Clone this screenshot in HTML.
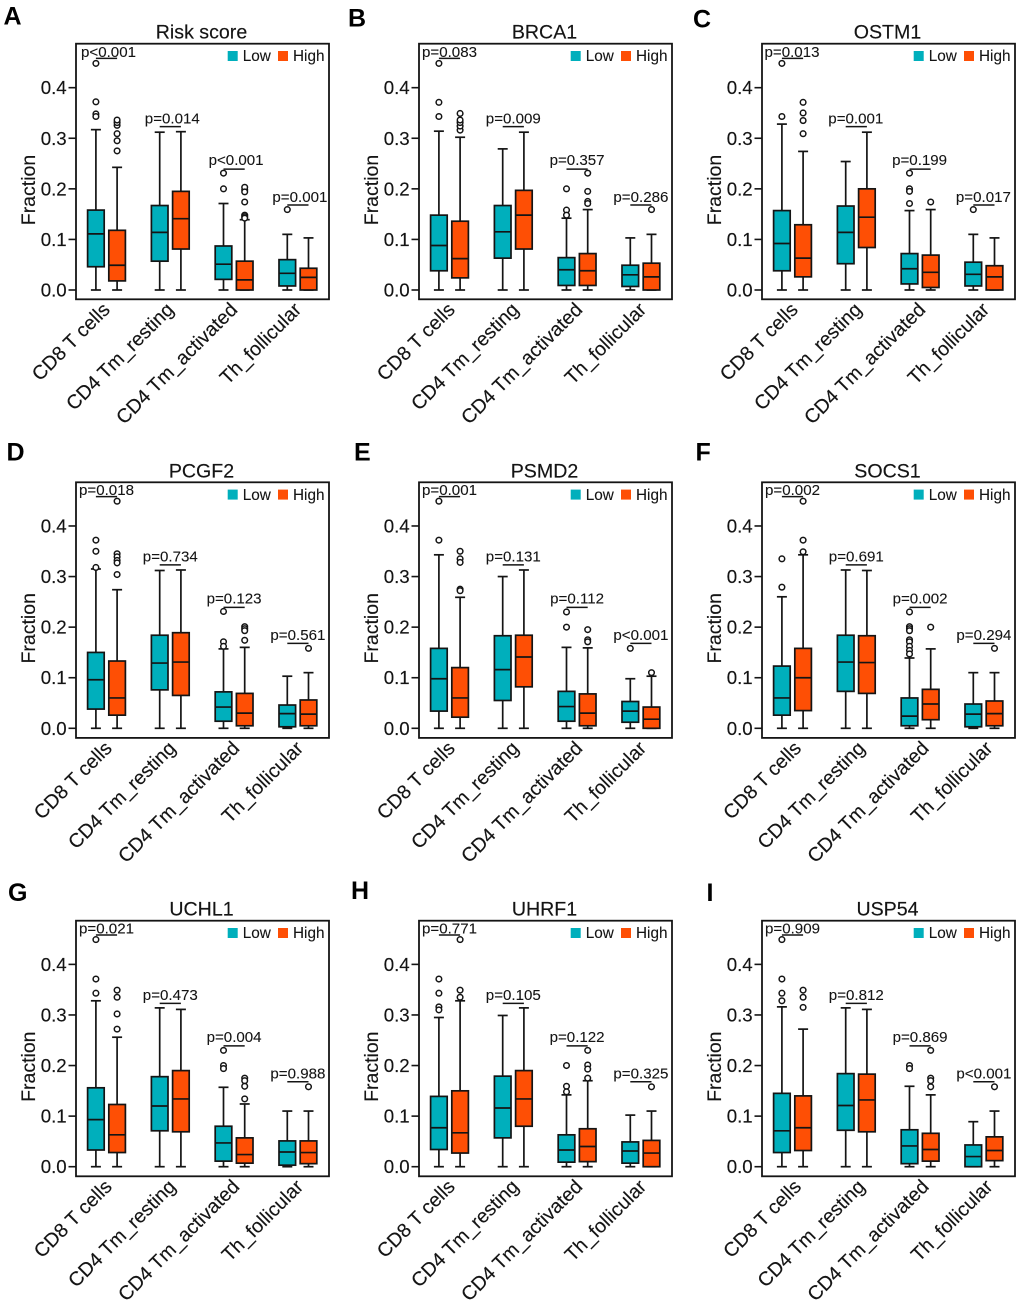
<!DOCTYPE html>
<html lang="en">
<head>
<meta charset="utf-8">
<title>Immune cell fractions by gene expression</title>
<style>
html,body{margin:0;padding:0;background:#fff;}
svg{display:block;font-family:"Liberation Sans",Arial,sans-serif;}
</style>
</head>
<body>
<svg id="figure" width="1020" height="1307" viewBox="0 0 1020 1307" xmlns="http://www.w3.org/2000/svg"></svg>
<script>
// ---- shared labels ----
const categories = ["CD8 T cells", "CD4 Tm_resting", "CD4 Tm_activated", "Th_follicular"];
const yTicks = [0, 0.1, 0.2, 0.3, 0.4];
const seriesNames = ["Low", "High"];
const bracketHeights = [0.458, 0.323, 0.239, 0.168];

// ---- panel titles ----
const panelLetters = ["A", "B", "C", "D", "E", "F", "G", "H", "I"];
const panelTitles = ["Risk score", "BRCA1", "OSTM1", "PCGF2", "PSMD2", "SOCS1", "UCHL1", "UHRF1", "USP54"];

// ---- box stats: one row per category, [whisker low, q1, median, q3, whisker high] ----
const riskLow = [[0,.046,.111,.158,.317],[0,.057,.114,.167,.312],[0,.021,.051,.087,.171],[0,.008,.033,.060,.110]];
const riskHigh = [[0,.018,.049,.118,.2425],[0,.081,.141,.195,.313],[0,0,.020,.057,.139],[0,0,.025,.043,.103]];
const riskLowOut = [[.448,.372,.348,.343],[],[.231,.200],[.159]];
const riskHighOut = [[.275,.295,.309,.3255,.331,.336],[],[.198,.203,.194,.174,.148,.145,.142],[]];
const riskP = ["p<0.001", "p=0.014", "p<0.001", "p=0.001"];

const brca1Low = [[0,.038,.088,.148,.314],[0,.063,.115,.167,.279],[0,.009,.040,.064,.142],[0,.007,.030,.049,.103]];
const brca1High = [[0,.024,.062,.136,.302],[0,.081,.148,.197,.312],[0,.009,.038,.072,.159],[0,0,.026,.053,.110]];
const brca1LowOut = [[.448,.371,.343],[],[.200,.158,.148],[]];
const brca1HighOut = [[.316,.324,.331,.336,.349],[],[.231,.195,.175,.171],[.159]];
const brca1P = ["p=0.083", "p=0.009", "p=0.357", "p=0.286"];

const ostm1Low = [[0,.038,.092,.157,.328],[0,.052,.114,.166,.254],[0,.012,.042,.072,.157],[0,.008,.031,.055,.110]];
const ostm1High = [[0,.026,.063,.129,.274],[0,.084,.144,.200,.312],[0,.005,.035,.069,.159],[0,0,.026,.048,.103]];
const ostm1LowOut = [[.448,.343],[],[.231,.200,.195,.171],[.159]];
const ostm1HighOut = [[.371,.350,.335,.309],[],[.174],[]];
const ostm1P = ["p=0.013", "p=0.001", "p=0.199", "p=0.017"];

const pcgf2Low = [[0,.038,.096,.150,.315],[0,.076,.129,.184,.312],[0,.014,.042,.072,.157],[0,.003,.029,.046,.103]];
const pcgf2High = [[0,.026,.060,.133,.274],[0,.065,.131,.189,.313],[0,.005,.030,.069,.160],[0,.005,.028,.056,.110]];
const pcgf2LowOut = [[.372,.350,.318],[],[.231,.171,.162],[]];
const pcgf2HighOut = [[.449,.345,.339,.332,.327,.304],[],[.201,.197,.193,.174],[.158]];
const pcgf2P = ["p=0.018", "p=0.734", "p=0.123", "p=0.561"];

const psmd2Low = [[0,.034,.098,.158,.343],[0,.055,.116,.183,.300],[0,.014,.043,.073,.160],[0,.012,.034,.053,.098]];
const psmd2High = [[0,.022,.060,.120,.259],[0,.082,.141,.184,.313],[0,.005,.030,.068,.159],[0,0,.018,.042,.103]];
const psmd2LowOut = [[.449,.372],[],[.230,.200],[.158]];
const psmd2HighOut = [[.350,.335,.328,.275,.272],[],[.195,.175,.171],[.110]];
const psmd2P = ["p=0.001", "p=0.131", "p=0.112", "p<0.001"];

const socs1Low = [[0,.026,.060,.123,.260],[0,.073,.131,.184,.313],[0,.005,.024,.060,.139],[0,.003,.028,.048,.110]];
const socs1High = [[0,.035,.100,.158,.343],[0,.069,.130,.183,.312],[0,.017,.048,.077,.157],[0,.005,.029,.054,.110]];
const socs1LowOut = [[.335,.279],[],[.230,.201,.197,.193,.175,.171,.162,.154,.147],[]];
const socs1HighOut = [[.449,.372,.349],[],[.200],[.158]];
const socs1P = ["p=0.002", "p=0.691", "p=0.002", "p=0.294"];

const uchl1Low = [[0,.033,.093,.156,.328],[0,.071,.120,.178,.314],[0,.011,.047,.080,.157],[0,.003,.029,.051,.110]];
const uchl1High = [[0,.028,.063,.123,.256],[0,.069,.134,.190,.311],[0,.007,.024,.057,.124],[0,.006,.028,.051,.110]];
const uchl1LowOut = [[.449,.371,.343],[],[.230,.200,.194],[]];
const uchl1HighOut = [[.349,.335,.302,.272],[],[.175,.170,.159,.134],[.158]];
const uchl1P = ["p=0.021", "p=0.473", "p=0.004", "p=0.988"];

const uhrf1Low = [[0,.034,.077,.139,.295],[0,.057,.116,.179,.299],[0,.009,.033,.063,.142],[0,.007,.031,.049,.102]];
const uhrf1High = [[0,.027,.067,.150,.328],[0,.080,.134,.190,.314],[0,.010,.040,.075,.170],[0,0,.027,.052,.110]];
const uhrf1LowOut = [[.371,.343,.316,.310],[],[.200,.159,.148],[]];
const uhrf1HighOut = [[.449,.349,.335],[],[.230,.201,.193,.175],[.158]];
const uhrf1P = ["p=0.771", "p=0.105", "p=0.122", "p=0.325"];

const usp54Low = [[0,.028,.071,.145,.316],[0,.072,.121,.184,.314],[0,.006,.041,.073,.159],[0,0,.020,.043,.089]];
const usp54High = [[0,.032,.077,.140,.272],[0,.069,.132,.183,.311],[0,.011,.034,.066,.142],[0,.012,.032,.059,.110]];
const usp54LowOut = [[.449,.371,.343,.328],[],[.200,.194],[]];
const usp54HighOut = [[.349,.335,.315],[],[.230,.175,.170,.158],[.158]];
const usp54P = ["p=0.909", "p=0.812", "p=0.869", "p<0.001"];

const lowStats = [riskLow, brca1Low, ostm1Low, pcgf2Low, psmd2Low, socs1Low, uchl1Low, uhrf1Low, usp54Low];
const highStats = [riskHigh, brca1High, ostm1High, pcgf2High, psmd2High, socs1High, uchl1High, uhrf1High, usp54High];
const lowOutliers = [riskLowOut, brca1LowOut, ostm1LowOut, pcgf2LowOut, psmd2LowOut, socs1LowOut, uchl1LowOut, uhrf1LowOut, usp54LowOut];
const highOutliers = [riskHighOut, brca1HighOut, ostm1HighOut, pcgf2HighOut, psmd2HighOut, socs1HighOut, uchl1HighOut, uhrf1HighOut, usp54HighOut];
const pLabels = [riskP, brca1P, ostm1P, pcgf2P, psmd2P, socs1P, uchl1P, uhrf1P, usp54P];

// ---- layout ----
const INK = "#141414", TEAL = "#00afbc", ORANGE = "#fe4f05";
const columnLefts = [76, 419, 762];
const rowTops = [43.7, 482.3, 920.7];
const rowZeros = [290, 728.3, 1166.7];
const FRAME_W = 253, FRAME_H = 255.6, PX_PER_UNIT = 505.8;
const BOX_W = 16.6, CAP_W = 10, LINE_W = 1.7;
const letterAnchors = {A:[3.5,24.7],B:[348,26.7],C:[693,27.3],D:[6.5,460.7],E:[354,460.7],F:[695.5,460.7],G:[8,901],H:[351,899],I:[706.5,901]};
const labelShift = [-2,0,0,0,0,3.3,0,0,3.3];
const pShift = [2,0,-0.5,0,0,0,0,0,0];

const svg = document.getElementById("figure");
const NS = "http://www.w3.org/2000/svg";
function make(tag, attrs, parent) {
  const n = document.createElementNS(NS, tag);
  for (const k in attrs) n.setAttribute(k, attrs[k]);
  parent.appendChild(n);
  return n;
}
function slug(s) { return s.toLowerCase().replace(/[^a-z0-9]+/g, "-").replace(/^-|-$/g, ""); }

function drawBox(g, cx, yOf, stats, outliers, fill, name) {
  const lo = stats[0], q1 = stats[1], med = stats[2], q3 = stats[3], hi = stats[4];
  const box = make("g", {}, g);
  
  
  const stem = make("line", {x1:cx, x2:cx, y1:yOf(lo), y2:yOf(hi), stroke:INK, "stroke-width":LINE_W}, box);
  
  
  [lo, hi].forEach(function (v) {
    const cap = make("line", {x1:cx-CAP_W/2, x2:cx+CAP_W/2, y1:yOf(v), y2:yOf(v), stroke:INK, "stroke-width":LINE_W}, box);
    
    
  });
  const rect = make("rect", {x:cx-BOX_W/2, y:yOf(q3), width:BOX_W, height:yOf(q1)-yOf(q3), fill:fill, stroke:INK, "stroke-width":LINE_W}, box);
  
  
  const mid = make("line", {x1:cx-BOX_W/2, x2:cx+BOX_W/2, y1:yOf(med), y2:yOf(med), stroke:INK, "stroke-width":LINE_W}, box);
  
  
  outliers.forEach(function (v) {
    const dot = make("circle", {cx:cx, cy:yOf(v), r:2.8, fill:"#fff", stroke:INK, "stroke-width":1.5}, box);
    
    
  });
}

panelTitles.forEach(function (title, p) {
  const col = p % 3, row = Math.floor(p / 3);
  const left = columnLefts[col], top = rowTops[row], zero = rowZeros[row];
  const yOf = function (v) { return zero - v * PX_PER_UNIT; };
  const key = slug(title);

  const g = make("g", {}, svg);
  
  

  const letter = make("text", {x:letterAnchors[panelLetters[p]][0], y:letterAnchors[panelLetters[p]][1], "font-size":25, "font-weight":"bold", fill:"#000"}, g);
  letter.textContent = panelLetters[p];
  
  

  const ttl = make("text", {x:left+125.5, y:top-5, "font-size":19.6, "text-anchor":"middle", fill:INK, stroke:INK, "stroke-width":0.15}, g);
  ttl.textContent = title;
  
  

  const frame = make("rect", {x:left, y:top, width:FRAME_W, height:FRAME_H, fill:"#fff", stroke:INK, "stroke-width":1.8}, g);
  
  

  yTicks.forEach(function (t) {
    const tick = make("line", {x1:left-7.5, x2:left, y1:yOf(t), y2:yOf(t), stroke:INK, "stroke-width":1.6}, g);
    
    
    const lab = make("text", {x:left-9.3, y:yOf(t)+6.5, "font-size":18.7, "text-anchor":"end", fill:INK, stroke:INK, "stroke-width":0.15}, g);
    lab.textContent = t.toFixed(1);
    
    
  });

  const yt = make("text", {"font-size":19.5, "text-anchor":"middle", fill:INK, stroke:INK, "stroke-width":0.15, transform:"translate(" + (left-41) + "," + (zero-100) + ") rotate(-90)"}, g);
  yt.textContent = "Fraction";
  
  

  categories.forEach(function (cat, c) {
    const groupCenter = left + 30.5 + c * 63.8;
    const lowX = groupCenter - 10.6, highX = groupCenter + 10.6;
    drawBox(g, lowX, yOf, lowStats[p][c], lowOutliers[p][c], TEAL, 'box-low-' + slug(cat));
    drawBox(g, highX, yOf, highStats[p][c], highOutliers[p][c], ORANGE, 'box-high-' + slug(cat));

    const by = yOf(bracketHeights[c]);
    const br = make("line", {x1:lowX, x2:highX, y1:by, y2:by, stroke:INK, "stroke-width":1.5}, g);
    
    
    const gap = c === 0 ? 1.4 : (c === 2 ? 4 : 3.2);
    const pt = make("text", {x:groupCenter+pShift[p], y:by-gap, "font-size":15.1, "text-anchor":"middle", fill:INK, stroke:INK, "stroke-width":0.1}, g);
    pt.textContent = pLabels[p][c];
    
    

    const lx = groupCenter + 6.5 + labelShift[p];
    const ly = top + FRAME_H + 11.5;
    const xl = make("text", {"font-size":19.6, "text-anchor":"end", fill:INK, stroke:INK, "stroke-width":0.15, transform:"translate(" + lx + "," + ly + ") rotate(-45)"}, g);
    xl.textContent = cat;
    
    
  });

  const legend = make("g", {}, g);
  
  
  seriesNames.forEach(function (s, i) {
    const sx = left + 151.7 + i * 50.3;
    const sw = make("rect", {x:sx, y:top+7.3, width:10, height:10, fill:i === 0 ? TEAL : ORANGE}, legend);
    
    
    const lt = make("text", {x:sx+15, y:top+17.5, "font-size":15.3, fill:INK, stroke:INK, "stroke-width":0.1}, legend);
    lt.textContent = s;
    
    
  });
});
</script>
</body>
</html>
